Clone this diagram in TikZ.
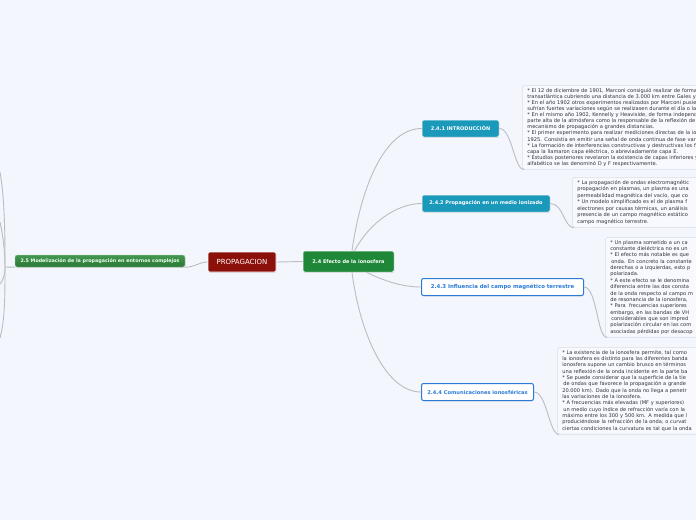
\documentclass[tikz,border=0pt]{standalone}
\usepackage{fontspec}
\setmainfont{DejaVu Sans}
\usetikzlibrary{shadows}
\definecolor{bg}{RGB}{243,246,253}
\definecolor{notefill}{RGB}{247,249,254}
\definecolor{noteline}{RGB}{218,222,230}
\definecolor{connc}{RGB}{188,188,194}
\definecolor{txtc}{RGB}{50,50,55}
\definecolor{gdark}{RGB}{30,136,56}
\definecolor{gmid}{RGB}{48,140,62}
\definecolor{redc}{RGB}{140,16,10}
\definecolor{tealc}{RGB}{27,153,186}
\definecolor{bluec}{RGB}{43,122,214}
\begin{document}
\begin{tikzpicture}[x=1pt,y=-1pt,
  conn/.style={draw=connc,line width=0.9pt},
  topic/.style={rounded corners=2pt,inner sep=0pt,align=center,
     drop shadow={opacity=0.25,shadow xshift=0.4pt,shadow yshift=-0.9pt}},
  greenbox/.style={topic,fill=gdark,draw=white,line width=0.5pt,text=white,
     font=\bfseries\fontsize{5}{6}\selectfont},
  greenlow/.style={topic,top color=gmid!90!white,bottom color=gmid!85!black,draw=white!70!gmid,line width=0.4pt,text=white!92!green,
     font=\bfseries\fontsize{4.8}{6}\selectfont},
  redbox/.style={topic,fill=redc,draw=white,line width=0.6pt,text=white!92,
     font=\fontsize{7}{8}\selectfont},
  tealbox/.style={topic,fill=tealc,draw=white,line width=0.5pt,text=white,
     font=\bfseries\fontsize{5}{6}\selectfont},
  bluebox/.style={topic,fill=white,draw=bluec,line width=1pt,text=bluec,
     font=\bfseries\fontsize{5.4}{6}\selectfont},
  note/.style={draw=noteline,fill=notefill,line width=0.6pt,rounded corners=3pt,
     anchor=north west,text width=320pt,inner xsep=5pt,inner ysep=3pt,align=left,text=txtc}
]
\useasboundingbox (0,0) rectangle (696,520);
\fill[bg] (0,0) rectangle (696,520);
\begin{scope}
\clip (0,0) rectangle (696,520);

% topic nodes
\node[greenlow,minimum width=170pt,minimum height=12pt] (n25) at (100,261) {2.5 Modelización de la propagación en entornos complejos};
\node[redbox,minimum width=68pt,minimum height=20pt] (prop) at (242,262) {PROPAGACION};
\node[greenbox,minimum width=91pt,minimum height=21pt] (n24) at (348.5,261.5) {2.4 Efecto de la ionosfera};
\node[tealbox,minimum width=77pt,minimum height=17pt] (n241) at (460.5,128.5) {2.4.1 INTRODUCCIÓN};
\node[tealbox,minimum width=128pt,minimum height=17pt] (n242) at (486,203.5) {2.4.2 Propagación en un medio ionizado};
\node[bluebox,minimum width=162pt,minimum height=17pt] (n243) at (502.5,287) {2.4.3 Influencia del campo magnético terrestre};
\node[bluebox,font=\bfseries\fontsize{5.15}{6}\selectfont,minimum width=112pt,minimum height=17pt] (n244) at (477.5,392) {2.4.4 Comunicaciones ionosféricas};

% note nodes
\node[note,font=\fontsize{5.1}{6.08}\selectfont] (t1) at (522,85) {%
{*} El 12 de diciembre de 1901, Marconi consiguió realizar de forma s\\
transatlántica cubriendo una distancia de 3.000 km entre Gales y Te\\
{*} En el año 1902 otros experimentos realizados por Marconi pusiero\\
sufrían fuertes variaciones según se realizasen durante el día o la n\\
{*} En el mismo año 1902, Kennelly y Heaviside, de forma independie\\
parte alta de la atmósfera como la responsable de la reflexión de la\\
mecanismo de propagación a grandes distancias.\\
{*} El primer experimento para realizar mediciones directas de la ion\\
1925. Consistía en emitir una señal de onda continua de fase variab\\
{*} La formación de interferencias constructivas y destructivas los fue\\
capa la llamaron capa eléctrica, o abreviadamente capa E.\\
{*} Estudios posteriores revelaron la existencia de capas inferiores y\\
alfabético se las denominó D y F respectivamente.};

\node[note,font=\fontsize{5.1}{6.5}\selectfont] (t2) at (572,177) {%
{*} La propagación de ondas electromagnétic\\
propagación en plasmas, un plasma es una\\
permeabilidad magnética del vacío, que co\\
{*} Un modelo simplificado es el de plasma f\\
electrones por causas térmicas, un análisis\\
presencia de un campo magnético estático\\
campo magnético terrestre.};

\node[note,font=\fontsize{5.1}{6.36}\selectfont] (t3) at (605,237) {%
{*} Un plasma sometido a un ca\\
constante dieléctrica no es un\\
{*} El efecto más notable es que\\
\hspace*{1pt}onda. En concreto la constante\\
derechas o a izquierdas, esto p\\
polarizada.\\
{*} A este efecto se le denomina\\
diferencia entre las dos consta\\
de la onda respecto al campo m\\
de resonancia de la ionosfera,\\
{*} Para\ \ frecuencias superiores\\
embargo, en las bandas de VH\\
\hspace*{1pt}considerables que son impred\\
polarización circular en las com\\
asociadas pérdidas por desacop};

\node[note,font=\fontsize{5.1}{6.33}\selectfont] (t4) at (557,347) {%
{*} La existencia de la ionosfera permite, tal como\\
la ionosfera es distinto para las diferentes banda\\
ionosfera supone un cambio brusco en términos\\
una reflexión de la onda incidente en la parte ba\\
{*} Se puede considerar que la superficie de la tie\\
\hspace*{1pt}de ondas que favorece la propagación a grande\\
20.000 km). Dado que la onda no llega a penetr\\
las variaciones de la ionosfera.\\
{*} A frecuencias más elevadas (MF y superiores)\\
\hspace*{1pt}un medio cuyo índice de refracción varía con la\\
máximo entre los 300 y 500 km. A medida que l\\
produciéndose la refracción de la onda, o curvat\\
ciertas condiciones la curvatura es tal que la onda};

% left edge connectors
\coordinate (j) at (5,267);
\coordinate (la) at (0,172);
\coordinate (lb) at (0,338);
\coordinate (lc) at (0,222);
\coordinate (ld) at (0,284);
\draw[conn] (la) .. controls (5,200) and (5,240) .. (j) .. controls (5,295) and (5,320) .. (lb);
\draw[conn] (lc) .. controls (3,235) and (5,252) .. (j) .. controls (5,276) and (3,280) .. (ld);
\draw[conn] (j) -- (n25.south west);

% main connectors
\draw[conn] (n25.south east) .. controls +(10,0) and +(-9,0) .. (prop.west);
\draw[conn] (prop.east) -- (n24.west);
\draw[conn] ([xshift=3.5pt]n24.north) .. controls +(10,-70) and +(-35,0) .. (n241.west);
\draw[conn] ([xshift=6pt]n24.north) .. controls +(15,-28) and +(-25,0) .. (n242.west);
\draw[conn] ([xshift=18pt]n24.south) .. controls +(18,9) and +(-18,0) .. (n243.west);
\draw[conn] ([xshift=3.5pt]n24.south) .. controls +(8,62) and +(-35,0) .. (n244.west);

% child to note connectors
\draw[conn] (n241.east) .. controls +(13,0) and +(-10,0) .. ([xshift=2pt]t1.south west);
\draw[conn] (n242.east) .. controls +(13,0) and +(-10,0) .. ([xshift=2pt]t2.south west);
\draw[conn] (n243.east) .. controls +(13,0) and +(-10,0) .. ([xshift=2pt]t3.south west);
\draw[conn] (n244.east) .. controls +(13,0) and +(-10,0) .. ([xshift=2pt]t4.south west);
\end{scope}
\end{tikzpicture}
\end{document}
